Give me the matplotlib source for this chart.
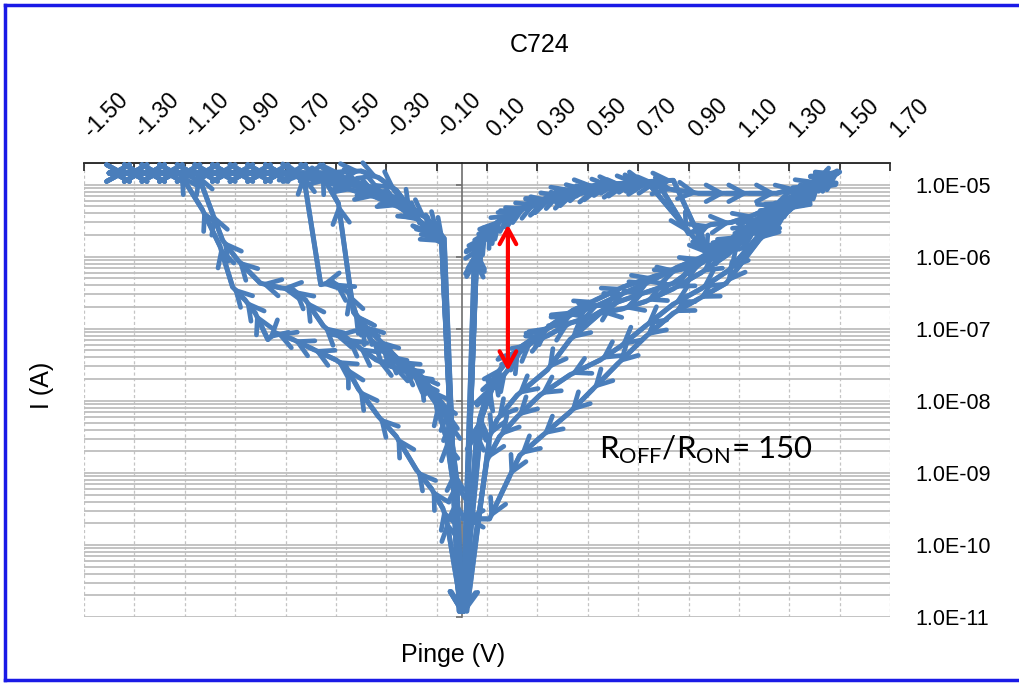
import matplotlib
matplotlib.use("Agg")
import matplotlib.pyplot as plt
from matplotlib.lines import Line2D
from matplotlib.ticker import FixedLocator, LogLocator, NullFormatter, FuncFormatter

plt.rcParams['font.family'] = ['Liberation Sans', 'DejaVu Sans']

BLUE = "#4A7EBB"

# --- negative sweeps: 0 V -> -1.4 V (set, arrows up-left) ---
s1_v = [0.00, -0.06, -0.075, -0.12, -0.18, -0.26, -0.33, -0.41, -0.46, -0.50, -0.59, -0.67,
        -0.74, -0.77, -0.82, -0.86, -0.91, -0.96, -1.03, -1.12, -1.19, -1.26, -1.33, -1.40]
s1_i = [1.2e-11, 2.2e-10, 3.2e-10, 6.0e-10, 1.1e-9, 3.2e-9, 6.0e-9, 1.45e-8, 3.0e-8, 3.7e-8, 5.2e-8, 7.1e-8,
        8.8e-8, 7.1e-8, 1.65e-7, 2.5e-7, 3.8e-7, 1.4e-6, 4.5e-6, 1.45e-5, 1.45e-5, 1.45e-5, 1.45e-5, 1.45e-5]

s2_v = [0.00, -0.03, -0.06, -0.12, -0.20, -0.28, -0.34, -0.41, -0.46, -0.51, -0.55, -0.62,
        -0.67, -0.72, -0.80, -0.89, -0.95, -0.99, -1.05, -1.12, -1.19, -1.26, -1.33, -1.40]
s2_i = [1.2e-11, 1.1e-9, 7.6e-9, 1.45e-8, 2.4e-8, 3.0e-8, 3.7e-8, 5.6e-8, 7.6e-8, 8.3e-8, 1.1e-7, 2.5e-7,
        3.5e-7, 3.7e-7, 4.3e-7, 9.0e-7, 1.7e-6, 4.0e-6, 1.45e-5, 1.45e-5, 1.45e-5, 1.45e-5, 1.45e-5, 1.45e-5]

s3_v = [0.00, -0.02, -0.05, -0.09, -0.17, -0.25, -0.33, -0.39, -0.42, -0.45, -0.51, -0.56,
        -0.63, -0.70, -0.77, -0.84, -0.91, -0.98, -1.05, -1.12, -1.19, -1.26, -1.33, -1.40]
s3_i = [1.2e-11, 8.0e-10, 5.5e-9, 1.05e-8, 2.4e-8, 3.7e-8, 7.1e-8, 1.15e-7, 1.6e-7, 3.2e-7, 4.4e-7, 4.1e-7,
        1.45e-5, 1.45e-5, 1.45e-5, 1.45e-5, 1.45e-5, 1.45e-5, 1.45e-5, 1.45e-5, 1.45e-5, 1.45e-5, 1.45e-5, 1.45e-5]

s4_v = [0.00, -0.025, -0.06, -0.10, -0.17, -0.24, -0.30, -0.36, -0.40, -0.43, -0.49, -0.56,
        -0.63, -0.70, -0.77, -0.84, -0.91, -0.98, -1.05, -1.12, -1.19, -1.26, -1.33, -1.40]
s4_i = [1.2e-11, 4.3e-10, 2.9e-9, 9.0e-9, 2.0e-8, 3.0e-8, 4.5e-8, 7.0e-8, 1.2e-7, 1.7e-7, 5.5e-6, 1.45e-5,
        1.45e-5, 1.45e-5, 1.45e-5, 1.45e-5, 1.45e-5, 1.45e-5, 1.45e-5, 1.45e-5, 1.45e-5, 1.45e-5, 1.45e-5, 1.45e-5]

# --- negative returns: -1.4 V -> 0 V ---
r1_v = [-1.40, -1.33, -1.26, -1.19, -1.12, -1.05, -0.98, -0.91, -0.84, -0.77, -0.70,
        -0.64, -0.54, -0.43, -0.34, -0.25, -0.17, -0.10, -0.075, -0.005]
r1_i = [1.45e-5, 1.45e-5, 1.45e-5, 1.45e-5, 1.45e-5, 1.45e-5, 1.45e-5, 1.45e-5, 1.45e-5, 1.45e-5, 1.45e-5,
        1.3e-5, 1.1e-5, 8.3e-6, 6.7e-6, 4.9e-6, 3.2e-6, 1.9e-6, 1.5e-6, 1.2e-11]

r2_v = [-1.40, -1.33, -1.26, -1.19, -1.12, -1.05, -0.98, -0.91, -0.84, -0.77, -0.70,
        -0.63, -0.56, -0.49, -0.40, -0.31, -0.22, -0.14, -0.09, -0.07, -0.01]
r2_i = [1.45e-5, 1.45e-5, 1.45e-5, 1.45e-5, 1.45e-5, 1.45e-5, 1.45e-5, 1.45e-5, 1.45e-5, 1.45e-5, 1.45e-5,
        1.45e-5, 1.4e-5, 1.3e-5, 1.05e-5, 7.8e-6, 5.5e-6, 3.4e-6, 2.2e-6, 1.8e-6, 1.2e-11]

r3_v = [-1.40, -1.33, -1.26, -1.19, -1.12, -1.05, -0.98, -0.91, -0.84, -0.77, -0.70,
        -0.63, -0.56, -0.48, -0.40, -0.33, -0.26, -0.20, -0.12, -0.08, -0.01]
r3_i = [1.45e-5, 1.45e-5, 1.45e-5, 1.45e-5, 1.45e-5, 1.45e-5, 1.45e-5, 1.45e-5, 1.45e-5, 1.45e-5, 1.45e-5,
        1.45e-5, 1.45e-5, 1.5e-5, 1.55e-5, 1.25e-5, 8.4e-6, 4.4e-6, 1.9e-6, 1.55e-6, 1.2e-11]

r4_v = [-1.40, -1.33, -1.26, -1.19, -1.12, -1.05, -0.98, -0.91, -0.84, -0.77, -0.70,
        -0.62, -0.52, -0.42, -0.33, -0.24, -0.16, -0.11, -0.08, -0.01]
r4_i = [1.45e-5, 1.45e-5, 1.45e-5, 1.45e-5, 1.45e-5, 1.45e-5, 1.45e-5, 1.45e-5, 1.45e-5, 1.45e-5, 1.45e-5,
        1.35e-5, 1.2e-5, 9.5e-6, 7.2e-6, 5.2e-6, 3.0e-6, 2.0e-6, 1.6e-6, 1.2e-11]

# --- positive sweeps from low resistance state (reset) ---
u1_v = [0.005, 0.06, 0.09, 0.14, 0.23, 0.34, 0.44, 0.53, 0.63, 0.73, 0.84, 0.98, 1.08, 1.18, 1.29, 1.40, 1.49]
u1_i = [1.2e-11, 1.2e-6, 1.7e-6, 3.0e-6, 4.4e-6, 6.7e-6, 8.9e-6, 9.8e-6, 1.04e-5, 1.1e-5, 1.15e-5,
        1.0e-6, 1.9e-6, 3.5e-6, 6.0e-6, 1.0e-5, 1.45e-5]

u2_v = [0.005, 0.06, 0.10, 0.15, 0.24, 0.34, 0.44, 0.54, 0.64, 0.74, 0.84, 0.94, 1.05, 1.14, 1.25, 1.33, 1.41, 1.49]
u2_i = [1.2e-11, 1.3e-6, 2.1e-6, 3.2e-6, 4.6e-6, 5.8e-6, 7.2e-6, 8.5e-6, 9.5e-6, 1.0e-5, 8.5e-6,
        7.6e-6, 7.6e-6, 7.6e-6, 7.6e-6, 9.0e-6, 1.15e-5, 1.5e-5]

u3_v = [0.005, 0.05, 0.09, 0.16, 0.26, 0.36, 0.46, 0.56, 0.66, 0.78, 0.90, 0.99, 1.07, 1.16, 1.26, 1.36, 1.47]
u3_i = [1.2e-11, 1.1e-6, 1.8e-6, 3.4e-6, 5.0e-6, 6.3e-6, 7.8e-6, 8.9e-6, 9.6e-6, 1.05e-5, 2.1e-6,
        2.8e-6, 3.0e-6, 3.8e-6, 5.5e-6, 8.5e-6, 1.4e-5]

u4_v = [0.005, 0.055, 0.08, 0.12, 0.20, 0.30, 0.40, 0.50, 0.60, 0.70, 0.74, 0.98, 1.10, 1.22, 1.33, 1.43, 1.50]
u4_i = [1.2e-11, 1.0e-6, 1.5e-6, 2.6e-6, 4.0e-6, 5.6e-6, 7.4e-6, 9.0e-6, 1.0e-5, 1.1e-5, 1.05e-5,
        1.05e-6, 2.0e-6, 3.6e-6, 6.3e-6, 1.05e-5, 1.5e-5]

# --- positive sweeps from high resistance state ---
m1_v = [0.005, 0.07, 0.11, 0.16, 0.23, 0.35, 0.44, 0.53, 0.64, 0.76, 0.86, 0.97, 1.06, 1.17, 1.30, 1.43, 1.49]
m1_i = [1.2e-11, 5.5e-9, 1.6e-8, 3.0e-8, 5.2e-8, 1.1e-7, 1.8e-7, 2.5e-7, 3.8e-7, 5.3e-7, 6.6e-7,
        9.0e-7, 1.4e-6, 2.3e-6, 4.4e-6, 1.2e-5, 1.55e-5]

m2_v = [0.005, 0.06, 0.12, 0.18, 0.23, 0.28, 0.34, 0.43, 0.52, 0.61, 0.73, 0.84, 0.94, 1.06, 1.18, 1.30, 1.40, 1.48]
m2_i = [1.2e-11, 4.0e-9, 1.45e-8, 2.6e-8, 4.7e-8, 6.5e-8, 8.0e-8, 1.2e-7, 1.5e-7, 2.3e-7, 3.2e-7,
        4.3e-7, 7.7e-7, 1.45e-6, 2.7e-6, 5.2e-6, 9.3e-6, 1.45e-5]

m3_v = [0.005, 0.08, 0.14, 0.22, 0.34, 0.44, 0.55, 0.65, 0.75, 0.85, 0.95, 1.05, 1.16, 1.27, 1.38, 1.47]
m3_i = [1.2e-11, 6.0e-9, 2.4e-8, 5.2e-8, 1.0e-7, 1.6e-7, 2.2e-7, 3.2e-7, 4.6e-7, 7.0e-7, 9.8e-7,
        1.6e-6, 2.8e-6, 5.0e-6, 9.5e-6, 1.45e-5]

# --- positive returns: 1.5 V -> 0 V ---
l1_v = [1.49, 1.40, 1.30, 1.18, 1.05, 0.94, 0.84, 0.73, 0.62, 0.52, 0.43, 0.32, 0.23, 0.19, 0.11, 0.005]
l1_i = [1.45e-5, 8.3e-6, 4.4e-6, 1.7e-6, 4.3e-7, 2.6e-7, 1.65e-7, 7.8e-8, 3.3e-8, 1.45e-8, 7.0e-9,
        3.3e-9, 1.75e-9, 9.0e-10, 2.3e-10, 2.3e-10]

l2_v = [1.49, 1.40, 1.30, 1.18, 1.06, 0.95, 0.84, 0.73, 0.63, 0.55, 0.43, 0.31, 0.22, 0.15, 0.10, 0.01]
l2_i = [1.45e-5, 9.0e-6, 4.6e-6, 2.0e-6, 6.5e-7, 3.6e-7, 2.2e-7, 1.1e-7, 5.7e-8, 3.7e-8, 2.3e-8,
        1.2e-8, 6.0e-9, 3.2e-9, 1.5e-9, 1.2e-11]

l3_v = [1.49, 1.40, 1.30, 1.18, 1.06, 0.95, 0.84, 0.73, 0.64, 0.55, 0.43, 0.34, 0.22, 0.14, 0.11, 0.02]
l3_i = [1.45e-5, 1.0e-5, 5.5e-6, 2.6e-6, 1.1e-6, 6.0e-7, 3.6e-7, 2.4e-7, 1.9e-7, 1.65e-7, 7.1e-8,
        2.7e-8, 1.2e-8, 5.5e-9, 3.2e-9, 1.2e-11]

sweeps = [(s1_v, s1_i), (s2_v, s2_i), (s3_v, s3_i), (s4_v, s4_i),
          (r1_v, r1_i), (r2_v, r2_i), (r3_v, r3_i), (r4_v, r4_i),
          (u1_v, u1_i), (u2_v, u2_i), (u3_v, u3_i), (u4_v, u4_i),
          (m1_v, m1_i), (m2_v, m2_i), (m3_v, m3_i),
          (l1_v, l1_i), (l2_v, l2_i), (l3_v, l3_i)]

# R_OFF / R_ON marker at 0.18 V
ratio_v = 0.183
ratio_low = 2.6e-8
ratio_high = 2.8e-6

x_ticks = [-1.5, -1.3, -1.1, -0.9, -0.7, -0.5, -0.3, -0.1, 0.1, 0.3, 0.5, 0.7, 0.9, 1.1, 1.3, 1.5, 1.7]
y_ticks = [1e-11, 1e-10, 1e-9, 1e-8, 1e-7, 1e-6, 1e-5]

fig = plt.figure(figsize=(10.19, 6.83), dpi=100)
ax = fig.add_axes([84 / 1019, 1 - 617 / 683, (890 - 84) / 1019, (617 - 163) / 683])

ax.set_yscale("log")
ax.set_xlim(-1.5, 1.7)
ax.set_ylim(1e-11, 2e-5)

# grid
ax.set_axisbelow(True)
ax.yaxis.set_major_locator(FixedLocator(y_ticks))
ax.yaxis.set_minor_locator(LogLocator(base=10, subs=[2, 3, 4, 5, 6, 7, 8, 9], numticks=50))
ax.yaxis.set_minor_formatter(NullFormatter())
ax.yaxis.set_major_formatter(FuncFormatter(lambda v, p: f"{v:.1E}"))
ax.grid(axis="y", which="both", color="#BEBEBE", lw=1.3, ls="-")
ax.xaxis.set_major_locator(FixedLocator(x_ticks))
ax.grid(axis="x", which="major", color="#C4C4C4", lw=0.9, ls=(0, (2.5, 2)))

# spines: y axis sits at V = 0, x axis on top
ax.spines["left"].set_position(("data", 0))
ax.spines["left"].set_color("#6E6E6E")
ax.spines["left"].set_linewidth(1.2)
ax.spines["top"].set_color("#222222")
ax.spines["top"].set_linewidth(1.3)
ax.spines["bottom"].set_visible(False)
ax.spines["right"].set_visible(False)

ax.xaxis.tick_top()
ax.tick_params(axis="x", which="major", direction="in", length=6, width=1.2, color="#222222",
               top=True, bottom=False, labeltop=False, labelbottom=False)
# rotated tick labels, written from the tick upward to the right
for t in x_ticks:
    ax.annotate(f"{t:.2f}", xy=(t, 1.0), xycoords=ax.get_xaxis_transform(),
                xytext=(12, 21), textcoords="offset pixels", rotation=45,
                rotation_mode="anchor", ha="left", va="bottom", fontsize=16.5,
                annotation_clip=False)

ax.tick_params(axis="y", which="major", direction="out", length=4, width=1.2, color="#6E6E6E",
               left=True, right=False, labelleft=False, labelright=True, labelsize=15.5, pad=14)
ax.tick_params(axis="y", which="minor", length=0)

# data: lines with an open arrow head at the end of every step
for v, i in sweeps:
    ax.plot(v, i, color=BLUE, lw=3.6, solid_joinstyle="round", solid_capstyle="round", zorder=3)
    for k in range(1, len(v)):
        ax.annotate("", xy=(v[k], i[k]), xytext=(v[k - 1], i[k - 1]),
                    arrowprops=dict(arrowstyle="->,head_length=0.55,head_width=0.3",
                                    color=BLUE, lw=3.4, shrinkA=0, shrinkB=0,
                                    mutation_scale=20), zorder=3)

ax.annotate("", xy=(ratio_v, ratio_high), xytext=(ratio_v, ratio_low),
            arrowprops=dict(arrowstyle="<->,head_length=0.55,head_width=0.3", color="#FF0000",
                            lw=3, shrinkA=0, shrinkB=0, mutation_scale=20), zorder=4)

ax.text(0.545, 2.1e-9, r"R$_{\mathregular{OFF}}$/R$_{\mathregular{ON}}$= 150",
        fontsize=22.5, family="Lato", va="center", ha="left", zorder=5)

fig.text(540 / 1019, 1 - 45 / 683, "C724", fontsize=18, ha="center", va="center")
fig.text(42 / 1019, 1 - 385 / 683, "I (A)", fontsize=18, rotation=90, ha="center", va="center")
fig.text(453 / 1019, 1 - 655 / 683, "Pinge (V)", fontsize=18, ha="center", va="center")

# blue chart frame
frame = "#1A1AE6"
fig.add_artist(Line2D([5 / 1019, 5 / 1019], [1 - 5 / 683, 1 - 680 / 683], transform=fig.transFigure, color=frame, lw=2.5))
fig.add_artist(Line2D([5 / 1019, 1], [1 - 5 / 683, 1 - 5 / 683], transform=fig.transFigure, color=frame, lw=2.5))
fig.add_artist(Line2D([5 / 1019, 1], [1 - 680 / 683, 1 - 680 / 683], transform=fig.transFigure, color=frame, lw=2.5))

fig.savefig("out.png", dpi=100, facecolor="white")
